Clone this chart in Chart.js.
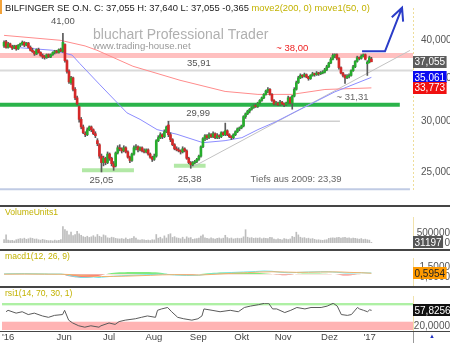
<!DOCTYPE html>
<html>
<head>
<meta charset="utf-8">
<title>Bilfinger SE</title>
<script src="https://cdn.jsdelivr.net/npm/chart.js@4.4.1/dist/chart.umd.min.js"></script>
<style>
  html, body { margin: 0; padding: 0; background: #fff; }
  body { width: 450px; height: 343px; overflow: hidden; position: relative; font-family: 'Liberation Sans', Arial, sans-serif; }
  canvas { position: absolute; left: 0; }
  .title { position: absolute; left: 5px; font-size: 8.6px; line-height: 10px; color: #c2b200; white-space: nowrap; z-index: 2; }
  .sep { position: absolute; left: 0; width: 450px; background: #454545; z-index: 2; }
</style>
</head>
<body>
<div style="position:absolute;left:0;top:0;width:2px;height:14px;background:#f2a23a"></div>
<div style="position:absolute;left:5px;top:2px;font-size:9.4px;line-height:11px;color:#222;white-space:nowrap;z-index:2">BILFINGER SE O.N. C: 37,055 H: 37,640 L: 37,055 -0,365 <span style="color:#c2b200">move2(200, 0) move1(50, 0)</span></div>
<canvas id="main" width="450" height="206" style="top:0"></canvas>
<div class="sep" style="top:205px;height:2px"></div>
<div class="title" style="top:207px">VolumeUnits1</div>
<canvas id="vol" width="450" height="33" style="top:217px"></canvas>
<div class="sep" style="top:249px;height:1.5px"></div>
<div class="title" style="top:251px">macd1(12, 26, 9)</div>
<canvas id="macd" width="450" height="28" style="top:258px"></canvas>
<div class="sep" style="top:286px;height:1.5px"></div>
<div class="title" style="top:288px">rsi1(14, 70, 30, 1)</div>
<canvas id="rsi" width="450" height="47" style="top:296px"></canvas>
<div class="sep" style="top:330.5px;height:1.5px"></div>
<div style="position:absolute;left:413px;top:331px;width:1px;height:12px;background:#999"></div>
<div style="position:absolute;left:429px;top:333px;font-size:6px;line-height:6px;color:#2030c0">▲</div>
<script>
// Tageskerzen (Index = Handelstag)
const opens = [39.2,39.8,39.0,39.5,39.1,38.9,39.2,38.8,39.3,39.5,
  39.7,39.3,39.6,39.0,38.6,38.4,38.1,38.7,38.3,37.9,
  37.7,37.6,38.0,37.7,38.0,38.3,38.5,38.3,38.7,38.4,
  39.4,37.2,35.8,34.4,35.0,33.6,32.6,31.6,30.2,29.4,
  28.7,28.6,29.1,29.4,29.1,28.7,28.0,27.6,26.5,25.9,
  26.3,25.9,26.7,26.3,25.8,25.6,26.8,27.3,27.2,27.0,
  27.3,26.9,26.4,26.1,26.7,27.3,27.4,27.1,27.3,27.0,
  26.9,27.1,26.7,26.4,26.2,26.5,28.0,28.3,28.6,28.4,
  28.9,29.6,28.6,28.1,27.6,27.2,27.1,27.0,26.9,27.2,
  27.0,26.3,25.9,25.7,25.9,26.0,26.2,26.5,27.4,28.2,
  28.5,28.3,28.6,28.4,28.7,28.3,28.5,28.4,28.8,28.6,
  29.0,28.6,28.4,28.3,28.6,28.9,29.2,29.3,29.5,30.5,
  30.8,31.1,31.3,31.5,31.7,31.6,32.0,32.3,32.6,33.0,
  33.4,33.6,33.0,32.3,31.9,32.0,31.8,32.1,31.9,31.8,
  32.0,32.6,32.0,32.8,33.6,34.4,35.0,35.3,35.2,35.4,
  35.1,34.9,35.3,35.5,35.4,35.6,35.5,35.6,35.7,36.0,
  36.4,36.9,37.4,37.9,38.0,37.5,36.3,35.6,35.3,35.0,
  35.2,35.3,35.9,36.4,37.1,37.6,37.5,37.8,38.0,36.8,
  37.0,37.42];
const highs = [39.9,40.0,39.7,39.6,39.3,39.3,39.3,39.4,39.6,39.9,
  39.8,39.7,39.7,39.2,38.9,38.5,38.8,38.9,38.4,38.1,
  37.9,38.1,38.1,38.1,38.4,38.6,38.6,38.8,38.9,41.0,
  39.5,37.3,36.0,35.2,35.1,33.8,32.8,31.7,30.4,29.6,
  28.9,29.3,29.5,29.5,29.2,28.9,28.2,27.7,26.7,26.5,
  26.4,26.9,26.8,26.4,26.0,26.9,27.5,27.6,27.3,27.5,
  27.4,27.0,26.5,26.8,27.5,27.6,27.5,27.4,27.4,27.2,
  27.2,27.2,26.8,26.5,26.7,28.1,28.5,28.8,28.7,29.1,
  29.5,29.99,28.8,28.2,27.7,27.4,27.3,27.1,27.4,27.3,
  27.1,26.4,26.0,26.0,26.1,26.3,26.6,27.5,28.3,28.6,
  28.6,28.8,28.7,28.9,28.8,28.7,28.6,28.9,28.9,29.8,
  29.1,28.7,28.5,28.7,29.0,29.3,29.4,29.6,30.6,30.9,
  31.2,31.4,31.6,31.8,31.9,32.1,32.4,32.7,33.1,33.5,
  33.8,33.7,33.1,32.4,32.2,32.1,32.3,32.2,32.0,32.1,
  32.8,32.7,32.9,33.8,34.6,35.2,35.5,35.4,35.6,35.5,
  35.2,35.4,35.7,35.6,35.8,35.7,35.8,35.9,36.2,36.6,
  37.0,37.6,38.1,38.1,38.1,37.6,36.4,35.7,35.4,35.4,
  35.5,36.0,36.6,37.2,37.8,37.7,38.0,38.1,38.1,37.2,
  37.8,37.64];
const lows = [39.0,38.9,38.9,39.0,38.7,38.8,38.6,38.7,39.1,39.3,
  39.1,39.2,38.9,38.5,38.3,37.9,38.0,38.2,37.8,37.5,
  37.4,37.5,37.6,37.6,37.9,38.1,38.2,38.2,38.4,38.3,
  37.0,35.6,34.3,34.2,33.4,32.4,31.8,29.9,29.2,28.7,
  28.4,28.5,29.0,28.9,28.6,28.3,27.5,26.3,25.05,25.6,
  25.7,25.8,26.1,25.6,25.2,25.5,26.7,27.0,26.8,26.9,
  26.8,26.3,25.9,26.0,26.6,27.1,26.9,27.0,26.9,26.8,
  26.8,26.6,26.3,26.0,26.1,26.4,27.9,28.2,28.2,28.3,
  28.8,28.4,27.9,27.5,27.1,27.0,26.9,26.7,26.8,26.9,
  26.2,25.8,25.38,25.6,25.8,25.9,26.1,26.4,27.3,28.0,
  28.1,28.2,28.3,28.3,28.2,28.2,28.2,28.3,28.5,28.5,
  28.5,28.3,28.1,28.2,28.5,28.8,29.0,29.2,29.4,30.3,
  30.7,30.9,31.2,31.4,31.5,31.5,31.9,32.2,32.5,32.9,
  33.2,32.9,32.2,31.8,31.8,31.7,31.7,31.8,31.6,31.7,
  31.9,31.9,31.31,32.7,33.5,34.3,34.9,35.0,35.1,35.0,
  34.7,34.8,35.2,35.2,35.3,35.3,35.4,35.5,35.6,35.9,
  36.3,36.8,37.3,37.6,37.3,36.1,35.5,35.1,34.3,34.9,
  35.0,35.2,35.8,36.3,37.0,37.3,37.4,37.7,37.3,35.3,
  36.9,37.055];
const closes = [39.7,39.0,39.5,39.1,38.9,39.2,38.8,39.3,39.5,39.7,
  39.3,39.6,39.0,38.6,38.4,38.1,38.7,38.3,37.9,37.7,
  37.6,38.0,37.7,38.0,38.3,38.5,38.3,38.7,38.5,39.7,
  37.2,35.8,34.5,35.0,33.6,32.6,31.9,30.2,29.4,28.8,
  28.6,29.1,29.4,29.1,28.7,28.5,27.7,26.5,25.9,26.3,
  25.9,26.7,26.3,25.8,25.5,26.8,27.3,27.2,27.0,27.3,
  26.9,26.4,26.1,26.7,27.3,27.4,27.1,27.3,27.0,26.9,
  27.1,26.7,26.4,26.2,26.5,28.0,28.3,28.6,28.4,28.9,
  29.4,28.6,28.1,27.6,27.2,27.1,27.0,26.9,27.2,27.0,
  26.3,25.9,25.7,25.9,26.0,26.2,26.5,27.4,28.2,28.5,
  28.3,28.6,28.4,28.7,28.3,28.5,28.4,28.8,28.6,29.0,
  28.6,28.4,28.3,28.6,28.9,29.2,29.3,29.5,30.5,30.8,
  31.1,31.3,31.5,31.7,31.6,32.0,32.3,32.6,33.0,33.4,
  33.6,33.0,32.3,31.9,32.0,31.8,32.1,31.9,31.8,32.0,
  32.6,32.0,32.8,33.6,34.4,35.0,35.3,35.2,35.4,35.1,
  34.9,35.3,35.5,35.4,35.6,35.5,35.6,35.7,36.0,36.4,
  36.9,37.4,37.9,38.0,37.5,36.3,35.6,35.3,35.0,35.2,
  35.3,35.9,36.4,37.1,37.6,37.5,37.8,38.0,37.4,37.0,
  37.6,37.055];
const volumes = [180000,420000,150000,120000,140000,110000,170000,200000,230000,210000,
  250000,190000,220000,260000,240000,200000,210000,170000,150000,190000,
  160000,140000,120000,130000,110000,150000,120000,140000,180000,850000,
  700000,620000,420000,560000,380000,440000,600000,480000,400000,330000,
  300000,350000,290000,320000,380000,310000,440000,350000,300000,420000,
  380000,270000,250000,300000,280000,240000,220000,210000,230000,200000,
  260000,190000,220000,240000,330000,250000,170000,150000,180000,160000,
  140000,150000,130000,170000,160000,440000,250000,300000,220000,370000,
  260000,440000,480000,290000,330000,270000,250000,220000,300000,200000,
  320000,260000,280000,190000,210000,230000,260000,360000,430000,270000,
  240000,210000,270000,230000,200000,240000,260000,220000,250000,400000,
  280000,230000,260000,210000,230000,250000,230000,250000,320000,690000,
  300000,260000,280000,240000,260000,250000,270000,220000,250000,240000,
  230000,300000,280000,200000,180000,210000,190000,170000,230000,200000,
  180000,210000,340000,300000,560000,420000,300000,260000,280000,230000,
  250000,210000,230000,190000,160000,170000,150000,140000,160000,170000,
  240000,260000,270000,250000,280000,300000,260000,280000,290000,250000,
  270000,230000,260000,240000,220000,200000,230000,180000,200000,170000,
  150000,31197];

// Gleitende Durchschnitte
const ma50Days = [7, 24, 33.5, 37.4, 47.3, 60.6, 67, 75.4, 85.2, 98, 108.9, 117.2, 125.1, 133.5, 143.3, 151.7, 163, 181];
const ma50Values = [38.97, 38.6, 37.95, 36.8, 34.13, 30.9, 30.2, 29.12, 28.64, 27.8, 28.0, 28.3, 29.12, 29.9, 31.0, 31.95, 33.3, 35.061];
const ma200Days = [0, 27.6, 39.9, 45.8, 63.5, 86.7, 108.9, 125.1, 141.8, 158.1, 181];
const ma200Values = [40.7, 40.0, 39.2, 38.6, 36.47, 34.7, 33.35, 33.0, 33.0, 33.58, 33.773];

// Linien im Chart
const trendDays = [93, 200];
const trendValues = [25.5, 38.58];
const arrowDays = [176.4, 187.7, 196.1];
const arrowValues = [38.46, 38.46, 44.9];
const resistance = 37.9, line3591 = 35.91, support = 31.8, line2999 = 29.99, floor2009 = 23.55;
const lowBand1 = 25.2, lowBand2 = 25.6;

// MACD und RSI
const macdDays = [0,10,20,28,30,34,38,44,48,52,58,64,70,76,80,84,90,96,100,106,112,118,124,128,132,136,140,144,150,156,160,164,168,172,176,181];
const macdValues = [0.08,0.12,0.05,0.05,-0.05,-0.4,-0.65,-0.75,-0.6,-0.45,-0.3,-0.2,-0.1,0.0,0.0,-0.15,-0.25,-0.2,0.0,0.2,0.35,0.45,0.55,0.65,0.6,0.4,0.3,0.35,0.45,0.5,0.5,0.4,0.25,0.25,0.3,0.25];
const signalDays = [0,10,20,28,32,36,42,48,54,60,66,72,78,84,90,96,102,108,114,120,126,132,138,144,150,156,162,166,170,176,181];
const signalValues = [0.02,0.05,0.02,0.0,-0.05,-0.2,-0.35,-0.45,-0.43,-0.38,-0.3,-0.22,-0.12,-0.08,-0.12,-0.15,-0.05,0.1,0.22,0.32,0.45,0.5,0.45,0.38,0.4,0.45,0.47,0.45,0.38,0.3,0.2];
const histDays = [0,4,10,16,22,27,29,31,35,40,44,47,50,53,58,64,70,76,80,82,86,90,94,97,102,108,114,120,126,132,134,138,142,144,148,154,160,164,167,171,174,176,181];
const histValues = [0.03,0.08,0.1,0.08,0.05,0.02,0,-0.3,-0.6,-0.7,-0.55,-0.3,0,0.25,0.4,0.45,0.45,0.35,0.1,-0.05,-0.15,-0.2,-0.1,0.05,0.25,0.35,0.35,0.3,0.25,0.05,-0.1,-0.2,-0.1,0.05,0.15,0.15,0.05,-0.05,-0.25,-0.2,-0.05,0.02,0.01];
const macdLabel = 0.5954;
const rsiDays = [0,1,5,8,11,14,18,21,24,28,29,31,33,36,39,42,46,47,51,54,56,59,64,67,70,74,75,77,80,82,85,88,92,95,97,98,102,106,111,115,118,121,125,128,130,132,134,138,141,144,148,151,156,159,162,164,166,169,171,174,175,177,179,180,181];
const rsiValues = [54.4,57.9,51,54.4,47.5,51,44.1,40.7,45.5,47.5,57.9,33.8,26.9,20,16.6,20,16.6,20,26.9,23.4,30.3,33.8,37.2,40.7,44.1,40.7,57.9,61.3,64.8,54.4,40.7,37.2,33.8,37.2,44.1,61.3,57.9,54.4,57.9,54.4,64.8,68.2,71.7,75.1,75.1,61.3,61.3,52.4,57.9,64.8,61.3,64.8,64.8,68.2,75.1,68.2,47.5,45.5,47.5,64.8,61.3,57.9,54.4,59,57.8256];

// Achsen
const priceTicks = [25, 30, 35, 40];
const volumeTicks = [0, 500000];
const macdTicks = [-0.5, 1.5];
const rsiTicks = [20];
const monthDays = [-2, 25, 48, 69, 91, 113, 133, 156, 177];
const monthLabels = ["'16", 'Jun', 'Jul', 'Aug', 'Sep', 'Okt', 'Nov', 'Dez', "'17"];

Chart.defaults.font.family = "'Liberation Sans', Arial, sans-serif";
Chart.defaults.font.size = 10;
Chart.defaults.color = '#555';

const de = (v, n) => v.toFixed(n).replace('.', ',');
const pts = (d, v) => d.map((x, i) => ({ x: x, y: v[i] }));
const level = (d, v) => [{ x: d[0], y: v }, { x: d[1], y: v }];
const FULL = [-2, 201.5];

function lineDs(data, color, width, order) {
    return { type: 'line', data: data, borderColor: color, borderWidth: width, pointRadius: 0, fill: false, tension: 0, order: order };
}

function rightAxis(min, max, ticks, fmt, tickOpts) {
    return {
        position: 'right', min: min, max: max, bounds: 'data',
        grid: { display: false, drawTicks: false }, border: { display: false },
        afterBuildTicks: s => { s.ticks = ticks.map(v => ({ value: v })); },
        afterFit: s => { s.width = 37; },
        ticks: Object.assign({ callback: fmt, color: '#555', font: { size: 10 }, padding: 1, crossAlign: 'far', autoSkip: false }, tickOpts || {})
    };
}

function baseOptions(y, padding, xExtra) {
    return {
        responsive: false, animation: false, devicePixelRatio: 1,
        layout: { padding: padding },
        plugins: { legend: { display: false }, tooltip: { enabled: false } },
        scales: {
            x: Object.assign({ type: 'linear', min: FULL[0], max: FULL[1], offset: false, display: false }, xExtra || {}),
            y: y
        }
    };
}

// Kasten mit dem letzten Wert rechts an der Achse
function valueBox(ctx, left, yPix, text, bg, fg) {
    ctx.font = "10px 'Liberation Sans'";
    const w = ctx.measureText(text).width + 3;
    ctx.fillStyle = bg;
    ctx.fillRect(left, Math.round(yPix - 6), w, 12);
    ctx.fillStyle = fg;
    ctx.textAlign = 'left';
    ctx.textBaseline = 'middle';
    ctx.fillText(text, left + 1.5, yPix + 0.5);
}

const sideLine = {
    id: 'sideLine',
    afterDraw(c) {
        const a = c.chartArea, ctx = c.ctx;
        ctx.save();
        ctx.strokeStyle = '#f1e2ac';
        ctx.beginPath(); ctx.moveTo(a.right + 0.5, 0); ctx.lineTo(a.right + 0.5, c.height); ctx.stroke();
        ctx.restore();
    }
};

// Beschriftungen im Kurschart: [Tag, Kurs, Versatz, Text, Farbe]
const notes = [
    [29, 41.0, -12, '41,00', '#555'],
    [142, 38.0, -6, '~ 38,00', '#ee2222'],
    [96, 35.91, -7, '35,91', '#555'],
    [95.6, 29.99, -8, '29,99', '#555'],
    [48, 25.05, 8, '25,05', '#555'],
    [91.4, 25.38, 11, '25,38', '#555'],
    [171.7, 31.31, -12, '~ 31,31', '#666'],
    [143.9, floor2009, -10, 'Tiefs aus 2009: 23,39', '#666']
];

const mainDeco = {
    id: 'mainDeco',
    beforeDatasetsDraw(c) {
        const ctx = c.ctx;
        ctx.save();
        ctx.fillStyle = '#b0b0b0';
        ctx.font = "14px 'Liberation Sans'";
        ctx.textAlign = 'left';
        ctx.fillText('bluchart Professional Trader', 93, 39);
        ctx.font = "9.6px 'Liberation Sans'";
        ctx.fillStyle = '#9a9a9a';
        ctx.fillText('www.trading-house.net', 93, 49);
        ctx.restore();
    },
    afterDraw(c) {
        const { ctx, chartArea: a, scales: { x, y } } = c;
        ctx.save();
        ctx.strokeStyle = '#eedd99';
        ctx.setLineDash([2, 2]);
        ctx.beginPath(); ctx.moveTo(a.right + 0.5, 8); ctx.lineTo(a.right + 0.5, a.bottom); ctx.stroke();
        ctx.setLineDash([]);

        ctx.font = "9.5px 'Liberation Sans'";
        ctx.textAlign = 'center';
        ctx.textBaseline = 'middle';
        notes.forEach(n => {
            ctx.fillStyle = n[4];
            ctx.fillText(n[3], x.getPixelForValue(n[0]), y.getPixelForValue(n[1]) + n[2]);
        });

        // blauer Pfeil nach oben
        const p = arrowDays.map((d, i) => [x.getPixelForValue(d), y.getPixelForValue(arrowValues[i])]);
        ctx.strokeStyle = '#2a3cc8';
        ctx.lineWidth = 2;
        ctx.beginPath();
        p.forEach((q, i) => i ? ctx.lineTo(q[0], q[1]) : ctx.moveTo(q[0], q[1]));
        const tip = p[p.length - 1], prev = p[p.length - 2];
        const ang = Math.atan2(tip[1] - prev[1], tip[0] - prev[0]);
        ctx.moveTo(tip[0] - 14 * Math.cos(ang - 0.45), tip[1] - 14 * Math.sin(ang - 0.45));
        ctx.lineTo(tip[0], tip[1]);
        ctx.lineTo(tip[0] - 14 * Math.cos(ang + 0.45), tip[1] - 14 * Math.sin(ang + 0.45));
        ctx.stroke();

        valueBox(ctx, a.right, y.getPixelForValue(closes[closes.length - 1]), de(closes[closes.length - 1], 3), '#5c5c5c', '#fff');
        valueBox(ctx, a.right, y.getPixelForValue(ma50Values[ma50Values.length - 1]), de(ma50Values[ma50Values.length - 1], 3), '#0a0af0', '#fff');
        valueBox(ctx, a.right, y.getPixelForValue(ma200Values[ma200Values.length - 1]), de(ma200Values[ma200Values.length - 1], 3), '#f01010', '#fff');
        ctx.restore();
    }
};

// Kurschart
new Chart(document.getElementById('main'), {
    type: 'bar',
    data: {
        datasets: [
            lineDs(level(FULL, resistance), 'rgba(255,130,130,0.5)', 5, 9),
            lineDs(level(FULL, line3591), '#dadada', 2, 9),
            lineDs(level([-2, 195], support), '#2ab34a', 4, 9),
            lineDs(level([80.5, 165.5], line2999), '#cfcfcf', 1.5, 9),
            lineDs(level([38.4, 64], lowBand1), '#b2e8a6', 4, 9),
            lineDs(level([83.7, 99.3], lowBand2), '#b2e8a6', 4, 9),
            lineDs(level([-2, 200], floor2009), '#c0cbe4', 2, 9),
            lineDs(pts(trendDays, trendValues), '#c2c2c2', 1, 8),
            lineDs(pts(ma200Days, ma200Values), '#ff8c8c', 1, 7),
            lineDs(pts(ma50Days, ma50Values), '#8c8cff', 1, 6),
            {
                data: lows.map((l, i) => ({ x: i, y: [l, highs[i]] })),
                backgroundColor: '#5a5a5a', barThickness: 1, grouped: false, minBarLength: 1, order: 2
            },
            {
                data: opens.map((o, i) => ({ x: i, y: [o, closes[i]] })),
                backgroundColor: ctx => closes[ctx.dataIndex] >= opens[ctx.dataIndex] ? '#26ad2c' : '#d42828',
                barThickness: 2, grouped: false, minBarLength: 1, order: 1
            }
        ]
    },
    options: baseOptions(
        Object.assign(rightAxis(23.33, 43.91, priceTicks, v => de(v, 3), { padding: 8, crossAlign: 'near' }), { type: 'logarithmic' }),
        { top: 14, bottom: 1, left: 0, right: 0 }
    ),
    plugins: [mainDeco]
});

// Volumen
new Chart(document.getElementById('vol'), {
    type: 'bar',
    data: { datasets: [{ data: volumes.map((v, i) => ({ x: i, y: v })), backgroundColor: '#bdbdbd', barThickness: 1, grouped: false }] },
    options: baseOptions(rightAxis(0, 985000, volumeTicks, v => String(v)), { top: 3, bottom: 3, left: 0, right: 0 }),
    plugins: [sideLine, {
        id: 'volBox',
        afterDraw(c) {
            const last = volumes[volumes.length - 1];
            c.ctx.save();
            valueBox(c.ctx, c.chartArea.right, c.scales.y.getPixelForValue(last), String(last), '#555', '#fff');
            c.ctx.restore();
        }
    }]
});

// MACD
new Chart(document.getElementById('macd'), {
    type: 'line',
    data: {
        datasets: [
            {
                data: pts(histDays, histValues), borderWidth: 0, borderColor: 'rgba(0,0,0,0)', pointRadius: 0, tension: 0.3,
                fill: { target: { value: 0 }, above: 'rgba(95,230,95,0.8)', below: 'rgba(255,105,105,0.9)' }, order: 3
            },
            lineDs(pts(macdDays, macdValues), '#6fe6ea', 1, 2),
            lineDs(pts(signalDays, signalValues), '#f2b06a', 1, 1)
        ]
    },
    options: baseOptions(rightAxis(-0.75, 1.65, macdTicks, v => de(v, 4), { padding: 2 }), { top: 1, bottom: 1, left: 0, right: 0 }),
    plugins: [sideLine, {
        id: 'macdBox',
        afterDraw(c) {
            c.ctx.save();
            valueBox(c.ctx, c.chartArea.right, c.scales.y.getPixelForValue(signalValues[signalValues.length - 1]), de(macdLabel, 4), '#ff9a00', '#222');
            c.ctx.restore();
        }
    }]
});

// RSI mit Monatsachse
new Chart(document.getElementById('rsi'), {
    type: 'line',
    data: { datasets: [lineDs(pts(rsiDays, rsiValues), '#5a5a5a', 1, 1)] },
    options: baseOptions(
        rightAxis(9.7, 75.8, rsiTicks, v => de(v, 4)),
        { top: 2, bottom: 0, left: 0, right: 0 },
        {
            display: true,
            grid: { display: false, drawTicks: false }, border: { display: false },
            afterBuildTicks: s => { s.ticks = monthDays.map(v => ({ value: v })); },
            afterFit: s => { s.height = 13; },
            ticks: { callback: (v, i) => monthLabels[i], align: 'start', padding: 2, maxRotation: 0, autoSkip: false, color: '#444', font: { size: 9.5 } }
        }
    ),
    plugins: [sideLine, {
        id: 'rsiBands',
        beforeDatasetsDraw(c) {
            const { ctx, chartArea: a, scales: { y } } = c;
            const y70 = y.getPixelForValue(70), y30 = y.getPixelForValue(30);
            ctx.save();
            ctx.fillStyle = '#aef0a4';
            ctx.fillRect(a.left, a.top, a.width, y70 - a.top);
            ctx.fillStyle = '#ffb4b4';
            ctx.fillRect(a.left, y30, a.width, a.bottom - y30);
            ctx.restore();
        },
        afterDraw(c) {
            const last = rsiValues[rsiValues.length - 1];
            c.ctx.save();
            valueBox(c.ctx, c.chartArea.right, c.scales.y.getPixelForValue(last), de(last, 4), '#111', '#fff');
            c.ctx.restore();
        }
    }]
});
</script>
</body>
</html>
